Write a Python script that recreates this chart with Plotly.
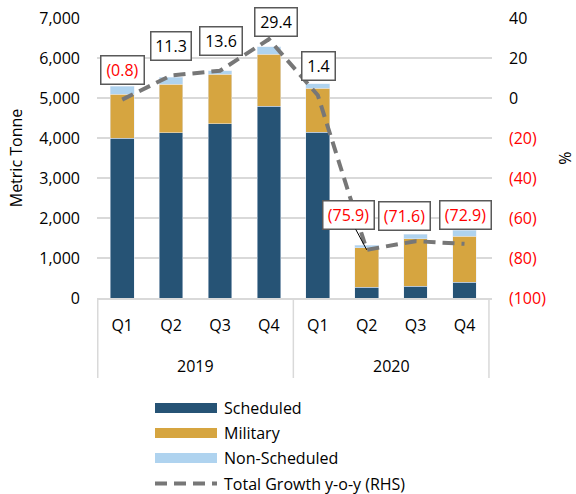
import plotly.graph_objects as go

years = ["2019"] * 4 + ["2020"] * 4
quarters = ["Q1", "Q2", "Q3", "Q4", "Q1", "Q2", "Q3", "Q4"]
scheduled = [4000, 4130, 4360, 4790, 4145, 270, 300, 390]
military = [1100, 1220, 1230, 1300, 1100, 990, 1180, 1160]
non_scheduled = [200, 175, 90, 190, 115, 58, 115, 150]
growth = [-0.8, 11.3, 13.6, 29.4, 1.4, -75.9, -71.6, -72.9]
growth_labels = ["(0.8)", "11.3", "13.6", "29.4", "1.4", "(75.9)", "(71.6)", "(72.9)"]
left_ticks = [0, 1000, 2000, 3000, 4000, 5000, 6000, 7000]
right_ticks = [40, 20, 0, -20, -40, -60, -80, -100]
year_groups = ["2019", "2020"]

C_SCHED = "#265375"
C_MIL = "#D6A540"
C_NS = "#AFD3EF"
C_LINE = "#777777"
RED = "#FF0000"
GRID = "#D9D9D9"
FONT = "Open Sans"
FS = 16

cats = [f"{y} {q}" for y, q in zip(years, quarters)]

fig = go.Figure()
fig.add_bar(x=cats, y=scheduled, name="Scheduled", marker_color=C_SCHED)
fig.add_bar(x=cats, y=military, name="Military", marker_color=C_MIL)
fig.add_bar(x=cats, y=non_scheduled, name="Non-Scheduled", marker_color=C_NS)
fig.add_scatter(x=cats, y=growth, yaxis="y2", mode="lines", name="Total Growth y-o-y (RHS)",
                line=dict(color=C_LINE, width=4, dash="12px,7px"))

# data labels
offsets = [(0, -30), (0, -29.5), (0.5, -30), (7, -17.5), (0.5, -29), (-18.6, -34.7), (-11.3, -25.3), (1, -29)]
box_w = [36, 33, 35, 35, 26, 44, 44, 44]
for i, (g, lab) in enumerate(zip(growth, growth_labels)):
    ax_, ay_ = offsets[i]
    fig.add_annotation(
        x=cats[i], y=g, yref="y2", text=lab, width=box_w[i], height=21,
        showarrow=True, ax=ax_, ay=ay_, arrowhead=0, arrowwidth=1,
        arrowcolor="#000000" if i == 5 else "rgba(0,0,0,0)",
        font=dict(family=FONT, size=FS, color=RED if g < 0 else "#000000"),
        bgcolor="#FFFFFF", bordercolor="#595959", borderwidth=1.5, borderpad=3,
    )

right_text = [str(v) if v >= 0 else f'<span style="color:{RED}">({abs(v)})</span>' for v in right_ticks]

W, H = 576, 494
ML, MR, MT, MB = 97, 84, 18, 196
pw = W - ML - MR
ph = H - MT - MB

fig.update_layout(
    barmode="stack",
    bargap=0.514,
    width=W, height=H,
    margin=dict(l=ML, r=MR, t=MT, b=MB),
    paper_bgcolor="#FFFFFF", plot_bgcolor="#FFFFFF",
    font=dict(family=FONT, size=FS, color="#000000"),
    hovermode=False,
    xaxis=dict(type="category", showline=True, linecolor=GRID, linewidth=1.5,
               tickvals=cats, ticktext=quarters, ticks="", ticklabelstandoff=12,
               automargin=False),
    yaxis=dict(range=[0, 7000], tickvals=left_ticks, tickformat=",", showgrid=True,
               gridcolor=GRID, gridwidth=1.5, zeroline=False, ticks="",
               ticklabelstandoff=16, automargin=False,
               title=dict(text="Metric Tonne", font=dict(size=FS), standoff=12)),
    yaxis2=dict(overlaying="y", side="right", range=[-100, 40], tickvals=right_ticks,
                ticktext=right_text, showgrid=False, zeroline=False, ticks="",
                ticklabelstandoff=16, automargin=False,
                title=dict(text="%", font=dict(size=FS), standoff=14)),
    showlegend=False,
)

# group dividers and year labels below the axis
div_depth = 80.0 / ph
for xb in [-0.5, 3.5, 7.5]:
    fig.add_shape(type="line", xref="x", yref="paper", x0=xb, x1=xb, y0=0, y1=-div_depth,
                  line=dict(color=GRID, width=1.5))
for k, yr in enumerate(year_groups):
    fig.add_annotation(xref="x", yref="paper", x=4 * k + 1.5, y=-(366 - (H - MB)) / ph,
                       text=yr, showarrow=False, yanchor="middle",
                       font=dict(family=FONT, size=FS, color="#000000"))

# custom legend (paper coordinates)
def px(xp):
    return (xp - ML) / pw
def py(yp):
    return (H - MB - yp) / ph

legend_items = [("Scheduled", C_SCHED), ("Military", C_MIL), ("Non-Scheduled", C_NS)]
rows = [408, 433, 458, 483.5]
for (name, col), yy in zip(legend_items, rows):
    fig.add_shape(type="rect", xref="paper", yref="paper",
                  x0=px(155), x1=px(217), y0=py(yy + 5), y1=py(yy - 5),
                  fillcolor=col, line=dict(width=0))
    fig.add_annotation(xref="paper", yref="paper", x=px(222), y=py(yy), text=name,
                       showarrow=False, xanchor="left", yanchor="middle",
                       font=dict(family=FONT, size=FS, color="#000000"))
fig.add_shape(type="line", xref="paper", yref="paper", x0=px(155), x1=px(217),
              y0=py(rows[3]), y1=py(rows[3]),
              line=dict(color=C_LINE, width=4, dash="12px,7px"))
fig.add_annotation(xref="paper", yref="paper", x=px(222), y=py(rows[3]),
                   text="Total Growth y-o-y (RHS)", showarrow=False,
                   xanchor="left", yanchor="middle",
                   font=dict(family=FONT, size=FS, color="#000000"))

fig.write_html("out.html", config={"displayModeBar": False},
               post_script="document.body.style.margin='0';document.body.style.overflow='hidden';")
